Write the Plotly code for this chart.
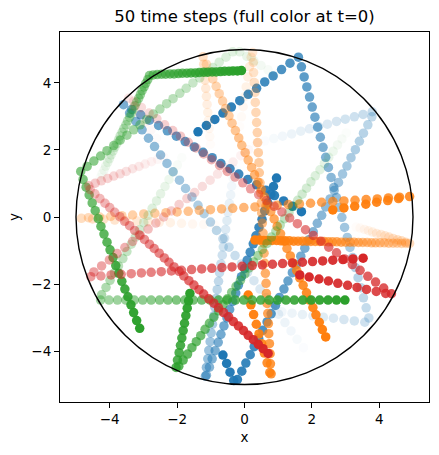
import numpy as np
import plotly.graph_objects as go

N_STEPS = 50
R = 5.0
x_ticks = [-4, -2, 0, 2, 4]
y_ticks = [-4, -2, 0, 2, 4]

# ---- blue particles (positions for t = 0..49) ----
b1_x = [-1.38,-1.13,-0.88,-0.64,-0.39,-0.14,0.11,0.36,0.60,0.85,1.10,1.35,1.60,1.69,1.77,1.85,1.93,2.01,2.09,2.17,2.25,2.33,2.41,2.49,2.57,2.65,2.73,2.81,2.89,2.97,3.05,3.13,3.21,3.29,3.37,3.45,3.53,3.61,3.69,3.57,3.26,2.95,2.64,2.34,2.03,1.72,1.41,1.11,0.80,0.49]
b1_y = [2.54,2.73,2.91,3.10,3.28,3.47,3.66,3.84,4.03,4.21,4.40,4.59,4.77,4.48,4.18,3.88,3.58,3.28,2.98,2.68,2.38,2.08,1.78,1.48,1.18,0.88,0.58,0.29,-0.01,-0.31,-0.61,-0.91,-1.21,-1.51,-1.81,-2.11,-2.41,-2.71,-3.01,-3.14,-3.10,-3.06,-3.02,-2.99,-2.95,-2.91,-2.87,-2.83,-2.79,-2.75]
b2_x = [-0.64,-0.53,-0.43,-0.32,-0.21,-0.08,0.04,0.17,0.29,0.42,0.54,0.67,0.79,0.92,1.04,1.17,1.29,1.42,1.54,1.67,1.79,1.91,2.04,2.16,2.29,2.41,2.54,2.66,2.79,2.91,3.04,3.16,3.29,3.41,3.53,3.66,3.78,3.79,3.52,3.26,2.99,2.73,2.46,2.20,1.93,1.67,1.40,1.13,0.87,0.60]
b2_y = [-4.12,-4.37,-4.63,-4.88,-4.85,-4.60,-4.36,-4.11,-3.87,-3.62,-3.38,-3.13,-2.89,-2.64,-2.40,-2.15,-1.91,-1.66,-1.42,-1.17,-0.93,-0.68,-0.44,-0.19,0.05,0.30,0.54,0.79,1.03,1.28,1.52,1.77,2.01,2.26,2.50,2.75,2.99,3.14,3.06,2.99,2.92,2.85,2.77,2.70,2.63,2.56,2.48,2.41,2.34,2.27]
b3_x = [1.69,1.42,1.16,0.89,0.63,0.36,0.10,-0.17,-0.43,-0.70,-0.96,-1.23,-1.49,-1.76,-2.02,-2.29,-2.55,-2.82,-3.08,-3.35,-3.59,-3.41,-3.22,-3.04,-2.85,-2.67,-2.49,-2.30,-2.12,-1.93,-1.75,-1.56,-1.38,-1.20,-1.01,-0.83,-0.64,-0.46,-0.28,-0.09,0.09,0.28,0.46,0.64,0.83,1.01,1.20,1.38,1.56,1.75]
b3_y = [0.16,0.32,0.48,0.64,0.80,0.96,1.12,1.28,1.44,1.60,1.77,1.93,2.09,2.25,2.41,2.57,2.73,2.89,3.05,3.21,3.35,3.10,2.85,2.60,2.35,2.10,1.85,1.60,1.35,1.10,0.85,0.60,0.35,0.10,-0.15,-0.40,-0.65,-0.90,-1.15,-1.40,-1.65,-1.90,-2.15,-2.40,-2.65,-2.90,-3.15,-3.40,-3.65,-3.90]
b4_x = [0.95,0.86,0.78,0.69,0.60,0.52,0.43,0.34,0.26,0.17,0.08,0.00,-0.09,-0.18,-0.26,-0.35,-0.44,-0.52,-0.61,-0.70,-0.78,-0.87,-0.96,-1.04,-1.13,-1.16,-1.13,-1.09,-1.06,-1.02,-0.99,-0.95,-0.91,-0.88,-0.84,-0.81,-0.77,-0.74,-0.70,-0.66,-0.63,-0.59,-0.56,-0.52,-0.49,-0.45,-0.41,-0.38,-0.34,-0.31]
b4_y = [1.16,0.91,0.67,0.42,0.18,-0.07,-0.31,-0.56,-0.80,-1.05,-1.29,-1.54,-1.78,-2.03,-2.27,-2.52,-2.76,-3.01,-3.25,-3.50,-3.74,-3.99,-4.23,-4.48,-4.72,-4.75,-4.49,-4.23,-3.98,-3.72,-3.46,-3.20,-2.95,-2.69,-2.43,-2.17,-1.92,-1.66,-1.40,-1.14,-0.89,-0.63,-0.37,-0.11,0.14,0.40,0.66,0.92,1.17,1.43]

# ---- orange particles ----
o1_x = [0.31,0.44,0.57,0.69,0.82,0.95,1.08,1.21,1.33,1.46,1.59,1.72,1.85,1.97,2.10,2.23,2.36,2.49,2.61,2.74,2.87,3.00,3.13,3.25,3.38,3.51,3.64,3.77,3.89,4.02,4.15,4.28,4.41,4.53,4.66,4.79,4.90,4.78,4.66,4.54,4.41,4.29,4.17,4.05,3.92,3.80,3.68,3.56,3.43,3.31]
o1_y = [-0.69,-0.69,-0.70,-0.70,-0.70,-0.70,-0.71,-0.71,-0.71,-0.72,-0.72,-0.72,-0.72,-0.73,-0.73,-0.73,-0.73,-0.74,-0.74,-0.74,-0.75,-0.75,-0.75,-0.75,-0.76,-0.76,-0.76,-0.77,-0.77,-0.77,-0.77,-0.78,-0.78,-0.78,-0.79,-0.79,-0.79,-0.75,-0.71,-0.68,-0.64,-0.60,-0.56,-0.52,-0.49,-0.45,-0.41,-0.37,-0.33,-0.30]
o2_x = [2.62,2.95,3.27,3.60,3.92,4.25,4.57,4.90,4.60,4.27,3.94,3.61,3.28,2.95,2.62,2.29,1.96,1.63,1.30,0.97,0.64,0.31,-0.02,-0.35,-0.68,-1.01,-1.34,-1.67,-2.00,-2.33,-2.66,-2.99,-3.32,-3.64,-3.97,-4.30,-4.63,-4.84,-4.51,-4.18,-3.85,-3.52,-3.19,-2.86,-2.53,-2.20,-1.87,-1.54,-1.21,-0.88]
o2_y = [0.21,0.27,0.32,0.38,0.44,0.49,0.55,0.61,0.59,0.57,0.54,0.52,0.50,0.48,0.46,0.44,0.41,0.39,0.37,0.35,0.33,0.30,0.28,0.26,0.24,0.22,0.20,0.17,0.15,0.13,0.11,0.09,0.06,0.04,0.02,0.00,-0.02,-0.04,-0.06,-0.07,-0.09,-0.11,-0.12,-0.14,-0.16,-0.17,-0.19,-0.21,-0.22,-0.24]
o3_x = [2.41,2.31,2.22,2.12,2.03,1.93,1.84,1.74,1.64,1.55,1.45,1.36,1.26,1.17,1.07,0.97,0.88,0.78,0.69,0.59,0.50,0.40,0.30,0.21,0.11,0.02,-0.08,-0.17,-0.27,-0.37,-0.46,-0.56,-0.65,-0.75,-0.84,-0.94,-1.04,-1.13,-1.23,-1.21,-1.19,-1.17,-1.15,-1.13,-1.11,-1.09,-1.07,-1.05,-1.03,-1.01]
o3_y = [-3.58,-3.36,-3.14,-2.92,-2.70,-2.48,-2.26,-2.04,-1.82,-1.60,-1.38,-1.16,-0.94,-0.72,-0.50,-0.28,-0.06,0.16,0.38,0.60,0.82,1.04,1.26,1.48,1.70,1.92,2.14,2.36,2.58,2.80,3.02,3.24,3.46,3.68,3.90,4.12,4.34,4.56,4.78,4.56,4.32,4.08,3.84,3.60,3.36,3.12,2.88,2.64,2.40,2.17]
o4_x = [0.11,0.19,0.27,0.35,0.43,0.51,0.59,0.67,0.75,0.79,0.77,0.76,0.74,0.72,0.71,0.69,0.67,0.65,0.64,0.62,0.60,0.58,0.57,0.55,0.53,0.51,0.50,0.48,0.46,0.44,0.43,0.41,0.39,0.38,0.36,0.34,0.32,0.31,0.29,0.27,0.26,0.24,0.20,0.15,0.10,0.05,0.01,-0.04,-0.09,-0.14]
o4_y = [-2.33,-2.62,-2.91,-3.20,-3.49,-3.78,-4.06,-4.35,-4.64,-4.68,-4.38,-4.08,-3.78,-3.48,-3.18,-2.88,-2.58,-2.28,-1.98,-1.68,-1.38,-1.08,-0.78,-0.48,-0.18,0.12,0.42,0.72,1.02,1.32,1.62,1.92,2.22,2.52,2.82,3.12,3.42,3.72,4.01,4.31,4.61,4.91,4.77,4.48,4.18,3.88,3.59,3.29,2.99,2.70]

# ---- green particles ----
g1_x = [-0.09,-0.21,-0.34,-0.46,-0.59,-0.71,-0.84,-0.96,-1.09,-1.21,-1.34,-1.46,-1.59,-1.71,-1.84,-1.96,-2.09,-2.21,-2.34,-2.46,-2.59,-2.71,-2.82,-2.87,-2.93,-2.98,-3.04,-3.09,-3.14,-3.20,-3.25,-3.31,-3.36,-3.41,-3.47,-3.52,-3.58,-3.63,-3.69,-3.74,-3.79,-3.85,-3.90,-3.96,-4.01,-4.06,-4.12,-4.17,-4.23,-4.28]
g1_y = [4.37,4.36,4.36,4.35,4.35,4.34,4.33,4.33,4.32,4.32,4.31,4.30,4.30,4.29,4.29,4.28,4.27,4.27,4.26,4.26,4.25,4.24,4.22,4.10,3.99,3.88,3.77,3.65,3.54,3.43,3.32,3.20,3.09,2.98,2.87,2.75,2.64,2.53,2.42,2.30,2.19,2.08,1.97,1.85,1.74,1.63,1.52,1.40,1.29,1.18]
g2_x = [-3.11,-3.20,-3.29,-3.37,-3.46,-3.55,-3.64,-3.73,-3.82,-3.90,-3.99,-4.08,-4.17,-4.26,-4.34,-4.43,-4.52,-4.61,-4.70,-4.79,-4.86,-4.67,-4.47,-4.27,-4.08,-3.88,-3.69,-3.49,-3.29,-3.10,-2.90,-2.71,-2.51,-2.31,-2.12,-1.92,-1.73,-1.53,-1.33,-1.14,-0.94,-0.75,-0.55,-0.35,-0.14,0.07,0.28,0.49,0.70,0.91]
g2_y = [-3.32,-3.09,-2.85,-2.62,-2.38,-2.15,-1.92,-1.68,-1.45,-1.21,-0.98,-0.75,-0.51,-0.28,-0.05,0.19,0.42,0.66,0.89,1.12,1.36,1.51,1.67,1.82,1.98,2.13,2.29,2.44,2.60,2.75,2.91,3.07,3.22,3.38,3.53,3.69,3.84,4.00,4.15,4.31,4.46,4.62,4.77,4.93,4.93,4.79,4.66,4.52,4.39,4.25]
g3_x = [-1.62,-1.66,-1.70,-1.74,-1.78,-1.82,-1.86,-1.90,-1.94,-1.99,-2.03,-1.95,-1.82,-1.69,-1.56,-1.43,-1.30,-1.17,-1.04,-0.91,-0.77,-0.64,-0.51,-0.38,-0.25,-0.12,0.01,0.14,0.27,0.40,0.53,0.67,0.80,0.93,1.06,1.19,1.32,1.45,1.58,1.71,1.84,1.97,2.10,2.24,2.37,2.50,2.63,2.76,2.89,3.02]
g3_y = [-2.28,-2.50,-2.72,-2.94,-3.17,-3.39,-3.61,-3.83,-4.05,-4.27,-4.49,-4.45,-4.27,-4.09,-3.90,-3.72,-3.54,-3.35,-3.17,-2.99,-2.80,-2.62,-2.44,-2.25,-2.07,-1.89,-1.70,-1.52,-1.34,-1.15,-0.97,-0.79,-0.60,-0.42,-0.24,-0.05,0.13,0.31,0.50,0.68,0.86,1.05,1.23,1.41,1.60,1.78,1.96,2.15,2.33,2.51]
g4_x = [2.98,2.73,2.48,2.23,1.98,1.73,1.48,1.23,0.98,0.73,0.48,0.23,-0.02,-0.27,-0.52,-0.77,-1.02,-1.27,-1.52,-1.77,-2.02,-2.27,-2.52,-2.77,-3.02,-3.27,-3.52,-3.77,-4.02,-4.27,-4.24,-4.11,-3.99,-3.86,-3.74,-3.61,-3.49,-3.36,-3.24,-3.11,-2.99,-2.86,-2.74,-2.61,-2.49,-2.36,-2.24,-2.11,-1.99,-1.86]
g4_y = [-2.48,-2.48,-2.48,-2.48,-2.48,-2.48,-2.48,-2.48,-2.48,-2.48,-2.48,-2.48,-2.48,-2.48,-2.48,-2.48,-2.48,-2.48,-2.48,-2.48,-2.48,-2.48,-2.48,-2.48,-2.48,-2.48,-2.48,-2.48,-2.48,-2.48,-2.32,-2.10,-1.89,-1.67,-1.46,-1.24,-1.03,-0.81,-0.60,-0.38,-0.17,0.05,0.26,0.48,0.69,0.91,1.12,1.34,1.55,1.77]

# ---- red particles ----
r1_x = [0.70,0.55,0.41,0.26,0.11,-0.03,-0.18,-0.33,-0.47,-0.62,-0.77,-0.91,-1.06,-1.21,-1.35,-1.50,-1.65,-1.80,-1.94,-2.09,-2.24,-2.38,-2.53,-2.68,-2.82,-2.97,-3.12,-3.26,-3.41,-3.56,-3.70,-3.85,-4.00,-4.14,-4.29,-4.44,-4.58,-4.62,-4.43,-4.25,-4.06,-3.88,-3.69,-3.51,-3.32,-3.13,-2.95,-2.76,-2.58,-2.39]
r1_y = [-4.07,-3.93,-3.80,-3.66,-3.53,-3.39,-3.25,-3.12,-2.98,-2.85,-2.71,-2.57,-2.44,-2.30,-2.17,-2.03,-1.90,-1.76,-1.62,-1.49,-1.35,-1.22,-1.08,-0.94,-0.81,-0.67,-0.54,-0.40,-0.26,-0.13,0.01,0.14,0.28,0.41,0.55,0.69,0.82,0.93,1.01,1.08,1.15,1.22,1.29,1.36,1.44,1.51,1.58,1.65,1.72,1.79]
r2_x = [3.52,3.22,2.92,2.62,2.32,2.02,1.72,1.42,1.13,0.83,0.53,0.23,-0.07,-0.37,-0.67,-0.97,-1.27,-1.57,-1.87,-2.17,-2.47,-2.77,-3.06,-3.36,-3.66,-3.96,-4.26,-4.56,-4.47,-4.24,-4.01,-3.78,-3.55,-3.32,-3.09,-2.86,-2.63,-2.40,-2.17,-1.94,-1.71,-1.48,-1.25,-1.02,-0.80,-0.57,-0.34,-0.11,0.12,0.35]
r2_y = [-1.23,-1.25,-1.27,-1.29,-1.31,-1.33,-1.35,-1.37,-1.39,-1.41,-1.43,-1.45,-1.47,-1.49,-1.51,-1.53,-1.55,-1.57,-1.59,-1.61,-1.63,-1.65,-1.67,-1.69,-1.71,-1.73,-1.76,-1.78,-1.64,-1.46,-1.28,-1.09,-0.91,-0.73,-0.55,-0.36,-0.18,0.00,0.18,0.37,0.55,0.73,0.91,1.10,1.28,1.46,1.64,1.83,2.01,2.19]
r3_x = [1.64,1.92,2.21,2.49,2.77,3.06,3.34,3.62,3.91,4.19,4.36,4.13,3.89,3.66,3.43,3.20,2.97,2.73,2.50,2.27,2.04,1.81,1.57,1.34,1.11,0.88,0.65,0.42,0.18,-0.05,-0.28,-0.51,-0.74,-0.98,-1.21,-1.44,-1.67,-1.90,-2.13,-2.37,-2.60,-2.83,-3.06,-3.29,-3.44,-3.28,-3.11,-2.94,-2.78,-2.61]
r3_y = [-1.73,-1.79,-1.85,-1.91,-1.98,-2.04,-2.10,-2.16,-2.22,-2.28,-2.29,-2.12,-1.94,-1.77,-1.59,-1.42,-1.25,-1.07,-0.90,-0.72,-0.55,-0.38,-0.20,-0.03,0.15,0.32,0.49,0.67,0.84,1.02,1.19,1.36,1.54,1.71,1.88,2.06,2.23,2.41,2.58,2.75,2.93,3.10,3.27,3.45,3.54,3.30,3.06,2.83,2.59,2.35]

groups = [
    ("#1f77b4", [(b1_x, b1_y), (b2_x, b2_y), (b3_x, b3_y), (b4_x, b4_y)]),
    ("#ff7f0e", [(o1_x, o1_y), (o2_x, o2_y), (o3_x, o3_y), (o4_x, o4_y)]),
    ("#2ca02c", [(g1_x, g1_y), (g2_x, g2_y), (g3_x, g3_y), (g4_x, g4_y)]),
    ("#d62728", [(r1_x, r1_y), (r2_x, r2_y), (r3_x, r3_y)]),
]

fig = go.Figure()
for color, tracks in groups:
    xs, ys, ops = [], [], []
    for tx, ty in tracks:
        t = np.arange(len(tx))
        xs += list(tx)
        ys += list(ty)
        ops += list(np.clip(1.0 - t / N_STEPS, 0.02, 1.0))
    fig.add_trace(go.Scatter(
        x=xs, y=ys, mode="markers",
        marker=dict(size=9.5, color=color, opacity=ops, line=dict(width=0)),
        hoverinfo="skip", showlegend=False))

fig.add_shape(type="circle", xref="x", yref="y", x0=-R, y0=-R, x1=R, y1=R,
              line=dict(color="black", width=1.4), layer="above")

font = "DejaVu Sans, Arial, sans-serif"
def lab(v):
    return f"{v:g}".replace("-", "\u2212")

axis_common = dict(showgrid=False, zeroline=False, showline=True, linecolor="black",
                   linewidth=1.1, mirror=True, ticks="outside", ticklen=5, tickwidth=1.1,
                   tickcolor="black", tickfont=dict(family=font, size=13.5, color="black"))

fig.update_layout(
    width=439, height=455,
    margin=dict(l=60, r=10, t=32, b=53),
    paper_bgcolor="white", plot_bgcolor="white",
    title=dict(text="50 time steps (full color at t=0)", x=0.5, xref="paper",
               y=1 - 16 / 455, yref="container", yanchor="middle",
               font=dict(family=font, size=16.5, color="black")),
    xaxis=dict(range=[-5.475, 5.475], tickvals=x_ticks, ticktext=[lab(v) for v in x_ticks],
               title=dict(text="x", standoff=6, font=dict(family=font, size=13.5, color="black")),
               **axis_common),
    yaxis=dict(range=[-5.52, 5.52], tickvals=y_ticks, ticktext=[lab(v) for v in y_ticks],
               title=dict(text="y", standoff=8, font=dict(family=font, size=13.5, color="black")),
               **axis_common),
)

fig.write_html("out.html")
